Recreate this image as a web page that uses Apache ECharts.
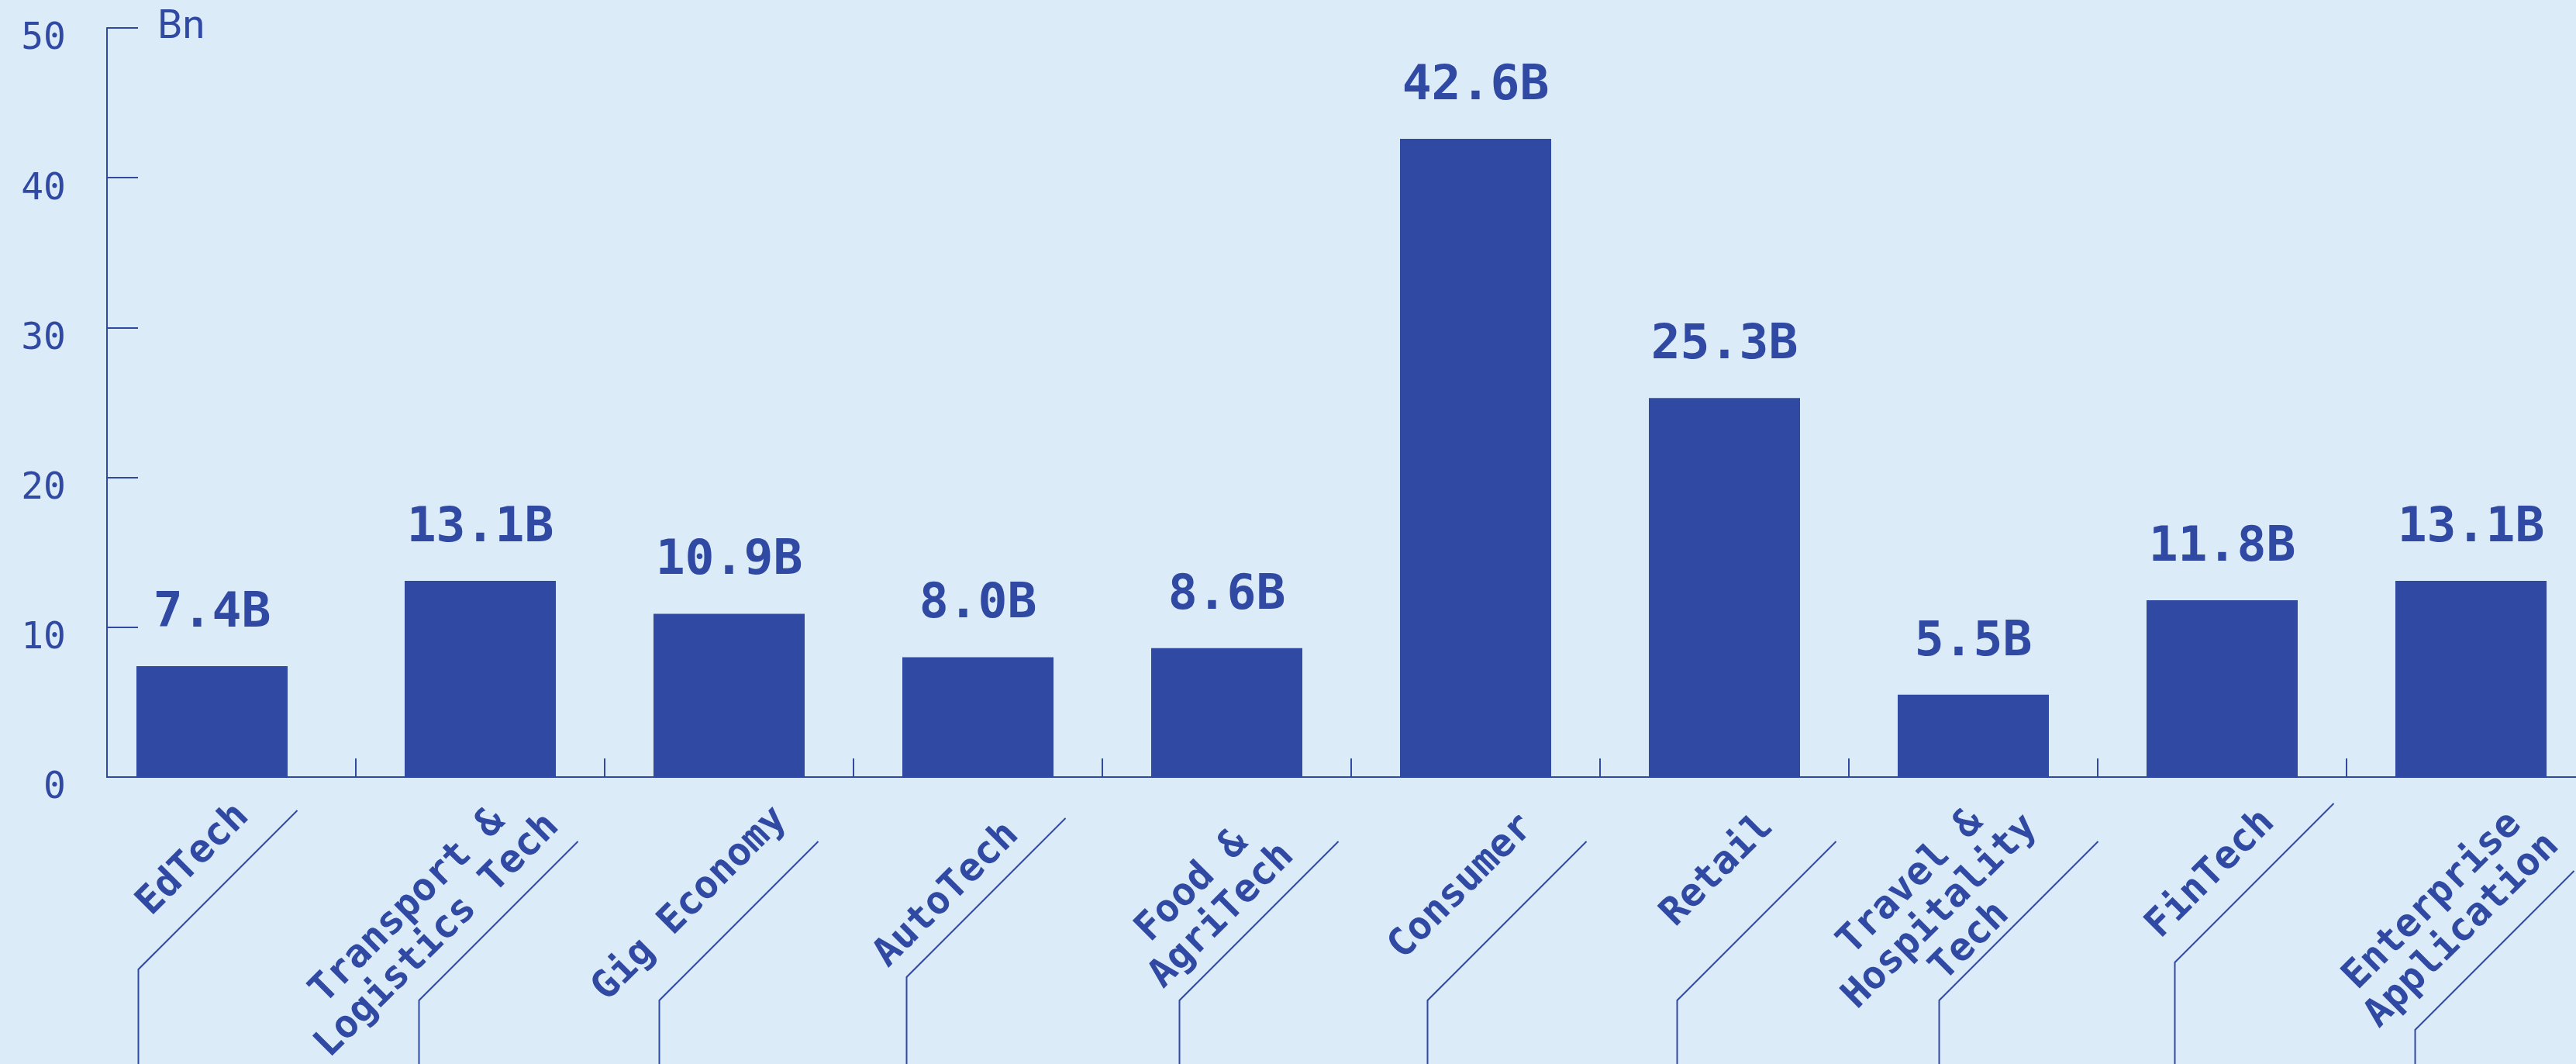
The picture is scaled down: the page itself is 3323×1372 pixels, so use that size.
<!DOCTYPE html>
<html><head><meta charset="utf-8">
<script src="https://cdn.jsdelivr.net/npm/echarts@6/dist/echarts.min.js"></script>
<style>html,body{margin:0;padding:0;background:#dcebf8;} #c{width:3323px;height:1372px;}</style>
</head><body><div id="c"></div>
<script>
// ---- data ----
const categories = ['EdTech', 'Transport &\nLogistics Tech', 'Gig Economy', 'AutoTech', 'Food &\nAgriTech', 'Consumer', 'Retail', 'Travel &\nHospitality\nTech', 'FinTech', 'Enterprise\nApplication'];
const values = [7.4, 13.1, 10.9, 8.0, 8.6, 42.6, 25.3, 5.5, 11.8, 13.1];
const yTickValues = [0, 10, 20, 30, 40, 50];
const unitName = 'Bn';

// ---- style / layout (not data) ----
const INK = '#3049a3';
const BG = '#dcebf8';
const BAR_W = 195;
const CAT_FS = 50, CAT_LH = 54, CAT_FONT = 'DejaVu Sans Mono';
// small per-category placement tweaks (px)
const barNudge    = [-25, 0, 0, 0, 0, 0, 0, 0, 0, 0];
const labelNudge  = [[-60, -14], [0, -20], [-8, -10], [-30, 10], [-15, 18], [-8, 0], [-20, 0], [0, 0], [-15, -6], [12, 5]];
const leaderNudge = [[-53, -40], [-12, 0], [-23, 0], [-25, -30], [6, 0], [5, 0], [6, 0], [23, 0], [6, -49], [-5, 38]];

const chart = echarts.init(document.getElementById('c'), null, {renderer: 'canvas'});

function barItem(params, api) {
  const i = params.dataIndex;
  const v = api.value(1);
  const top = api.coord([api.value(0), v]);
  const base = api.coord([api.value(0), 0]);
  const cx = top[0] + barNudge[i];
  return {
    type: 'group',
    children: [
      {type: 'rect', shape: {x: cx - BAR_W / 2, y: top[1], width: BAR_W, height: base[1] - top[1]},
       style: {fill: INK}},
      {type: 'text', x: cx, y: top[1] - 36,
       style: {text: v.toFixed(1) + 'B', fill: INK, fontSize: 63, fontWeight: 'bold', fontFamily: 'DejaVu Sans Mono',
               align: 'center', verticalAlign: 'bottom'}}
    ]
  };
}

function leaderAndLabel(params, api) {
  const i = params.dataIndex;
  const p = api.coord([api.value(0), 0]);
  const cx = p[0], base = p[1];
  const text = categories[i];
  const lines = text.split('\n');
  const maxLen = Math.max.apply(null, lines.map(s => s.length));
  const adv = CAT_FS * 0.602;
  const ux = Math.SQRT1_2, uy = -Math.SQRT1_2;
  const ex = cx + 75 + labelNudge[i][0], ey = base + 57 + labelNudge[i][1];   // end of label block
  const w = maxLen * adv;
  const tx = ex - ux * w / 2, ty = ey - uy * w / 2;
  const topX = cx + 138 + leaderNudge[i][0], topY = base + 83 + leaderNudge[i][1];  // leader upper end
  const bendX = topX - 205, bendY = topY + 205;
  const H = api.getHeight();
  return {
    type: 'group',
    children: [
      {type: 'text', x: tx, y: ty, rotation: Math.PI / 4,
       style: {text: text, fill: INK, fontSize: CAT_FS, fontWeight: 'bold', fontFamily: CAT_FONT,
               align: 'center', verticalAlign: 'middle', lineHeight: CAT_LH}},
      {type: 'polyline', shape: {points: [[topX, topY], [bendX, bendY], [bendX, H + 10]]},
       style: {stroke: INK, lineWidth: 2, fill: null}}
    ]
  };
}

chart.setOption({
  backgroundColor: BG,
  animation: false,
  grid: {left: 138, top: 36, width: 3210, height: 966, containLabel: false, outerBoundsMode: 'none'},
  xAxis: {
    type: 'category',
    data: categories,
    axisLine: {show: true, lineStyle: {color: INK, width: 2}},
    axisTick: {show: true, inside: true, length: 24, lineStyle: {color: INK, width: 2}},
    axisLabel: {show: false},
    splitLine: {show: false}
  },
  yAxis: {
    type: 'value',
    min: yTickValues[0],
    max: yTickValues[yTickValues.length - 1],
    interval: yTickValues[1] - yTickValues[0],
    name: unitName,
    nameLocation: 'end',
    nameGap: 0,
    nameTextStyle: {color: INK, fontSize: 52, fontFamily: 'Roboto', align: 'left', verticalAlign: 'middle', padding: [0, 0, 0, 65]},
    axisLine: {show: true, lineStyle: {color: INK, width: 2}},
    axisTick: {show: true, inside: true, length: 40, lineStyle: {color: INK, width: 2}},
    axisLabel: {color: INK, fontSize: 48, fontFamily: 'DejaVu Sans Mono', margin: 53, verticalAlign: 'top', lineHeight: 30},
    splitLine: {show: false}
  },
  series: [
    {
      type: 'custom',
      clip: false,
      silent: true,
      encode: {x: 0, y: 1},
      data: values.map((v, i) => [i, v]),
      renderItem: barItem
    },
    {
      type: 'custom',
      clip: false,
      silent: true,
      encode: {x: 0, y: 1},
      data: categories.map((c, i) => [i, 0]),
      renderItem: leaderAndLabel
    }
  ]
});
</script></body></html>
